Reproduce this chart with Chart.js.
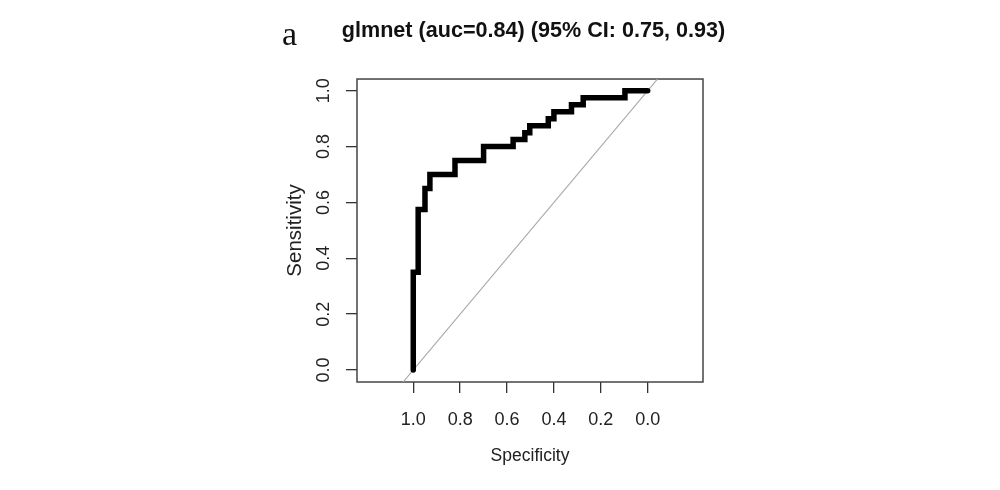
<!DOCTYPE html>
<html>
<head>
<meta charset="utf-8">
<script src="https://cdn.jsdelivr.net/npm/chart.js@4.4.1/dist/chart.umd.min.js"></script>
<style>
  html, body { margin: 0; padding: 0; background: #fff; }
  #wrap { width: 1000px; height: 490px; }
</style>
</head>
<body>
<div id="wrap"><canvas id="roc"></canvas></div>
<script>
// ROC vertices (specificity, sensitivity)
var specificity = [1.0, 1.0, 0.979, 0.979, 0.95, 0.95, 0.929, 0.929, 0.822, 0.822, 0.70, 0.70,
  0.574, 0.574, 0.524, 0.524, 0.503, 0.503, 0.424, 0.424, 0.40, 0.40, 0.325, 0.325,
  0.275, 0.275, 0.097, 0.097, 0.0];
var sensitivity = [0, 0.35, 0.35, 0.575, 0.575, 0.65, 0.65, 0.70, 0.70, 0.75, 0.75, 0.80,
  0.80, 0.825, 0.825, 0.85, 0.85, 0.875, 0.875, 0.90, 0.90, 0.925, 0.925, 0.95,
  0.95, 0.975, 0.975, 1.0, 1.0];

// chance line sens = 1 - spec, run past the plot box and clipped
var diagSpec = [1.4, -0.4];
var diagSens = [-0.4, 1.4];

var tickValues = [0, 0.2, 0.4, 0.6, 0.8, 1.0];

var titleText = "glmnet (auc=0.84) (95% CI: 0.75, 0.93)";
var panelLetter = "a";

var sans = "'Liberation Sans', Arial, sans-serif";

function pts(xs, ys) {
  return xs.map(function (x, i) { return { x: x, y: ys[i] }; });
}

function fixedTicks(scale) {
  scale.ticks = tickValues.map(function (v) { return { value: v }; });
}

function oneDecimal(v) { return Number(v).toFixed(1); }

// box around the plot region plus the panel letter
var boxPlugin = {
  id: "boxPlugin",
  beforeDatasetsDraw: function (chart) {
    var a = chart.chartArea, ctx = chart.ctx;
    ctx.save();
    ctx.strokeStyle = "#444";
    ctx.lineWidth = 1.5;
    ctx.strokeRect(a.left, a.top, a.right - a.left, a.bottom - a.top);
    ctx.restore();
  },
  afterDraw: function (chart) {
    var ctx = chart.ctx;
    ctx.save();
    ctx.fillStyle = "#111";
    ctx.font = "34px 'Liberation Serif', 'Times New Roman', serif";
    ctx.textAlign = "left";
    ctx.textBaseline = "alphabetic";
    ctx.fillText(panelLetter, 282, 45);
    ctx.restore();
  }
};

new Chart("roc", {
  type: "scatter",
  data: {
    datasets: [{
      data: pts(diagSpec, diagSens),
      showLine: true,
      borderColor: "#a8a8a8",
      borderWidth: 1.1,
      pointRadius: 0,
      order: 2
    }, {
      data: pts(specificity, sensitivity),
      showLine: true,
      borderColor: "#000",
      borderWidth: 5.5,
      borderJoinStyle: "miter",
      borderCapStyle: "round",
      pointRadius: 0,
      order: 1
    }]
  },
  options: {
    responsive: true,
    maintainAspectRatio: false,
    animation: false,
    layout: { padding: { left: 270, right: 203, top: 10, bottom: 0 } },
    plugins: {
      legend: { display: false },
      tooltip: { enabled: false },
      title: {
        display: true,
        text: titleText,
        color: "#111",
        font: { family: sans, size: 21.6, weight: "bold" },
        padding: { top: 8.5, bottom: 34.6 }
      }
    },
    scales: {
      x: {
        type: "linear",
        reverse: true,
        min: -0.236,
        max: 1.24,
        afterBuildTicks: fixedTicks,
        afterFit: function (s) { s.height = 108; },
        border: { display: false },
        grid: { drawOnChartArea: false, drawTicks: true, tickLength: 11, color: "#333", lineWidth: 1.3 },
        ticks: {
          color: "#222",
          padding: 16.5,
          maxRotation: 0,
          font: { family: sans, size: 18 },
          callback: oneDecimal
        },
        title: {
          display: true,
          text: "Specificity",
          color: "#222",
          font: { family: sans, size: 17.5 },
          padding: { top: 0, bottom: 23 }
        }
      },
      y: {
        type: "linear",
        min: -0.043,
        max: 1.042,
        afterBuildTicks: fixedTicks,
        afterFit: function (s) { s.width = 87; },
        border: { display: false },
        grid: { drawOnChartArea: false, drawTicks: true, tickLength: 11, color: "#333", lineWidth: 1.3 },
        ticks: {
          color: "#222",
          padding: 9.5,
          minRotation: 90,
          maxRotation: 90,
          crossAlign: "center",
          font: { family: sans, size: 18 },
          callback: oneDecimal
        },
        title: {
          display: true,
          text: "Sensitivity",
          color: "#222",
          font: { family: sans, size: 20.5 },
          padding: { top: 13.5, bottom: 0 }
        }
      },
      // empty right margin so the title centres where the original has it
      spacer: {
        type: "linear",
        position: "right",
        afterFit: function (s) { s.width = 94; },
        border: { display: false },
        grid: { display: false },
        ticks: { display: false }
      }
    }
  },
  plugins: [boxPlugin]
});
</script>
</body>
</html>
